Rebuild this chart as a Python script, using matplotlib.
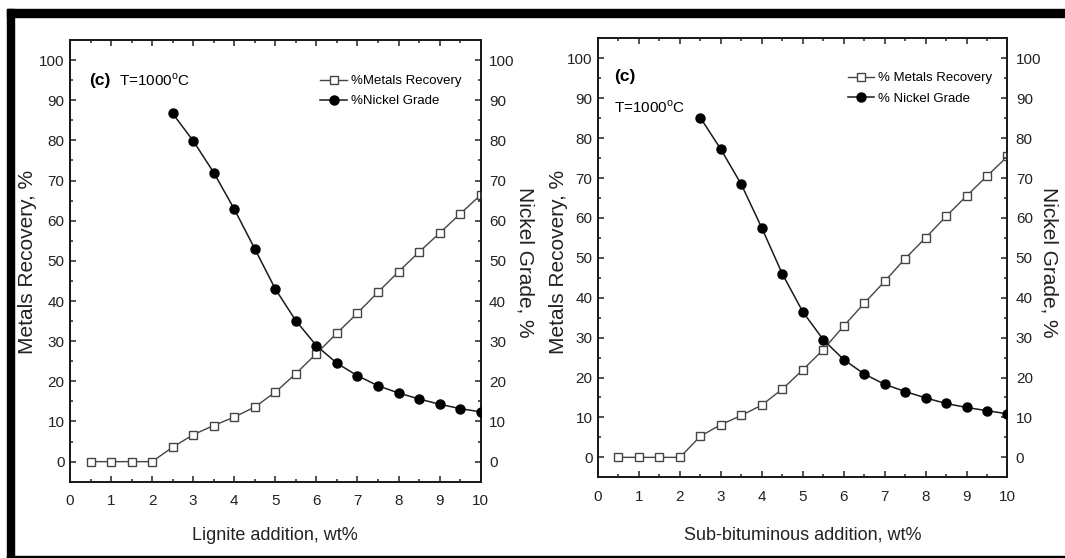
"""Two-panel metals recovery / nickel grade vs. reductant addition (T=1000 C)."""
import matplotlib

matplotlib.use("Agg")
import matplotlib.pyplot as plt
from matplotlib.lines import Line2D
from matplotlib.patches import Rectangle
from matplotlib.ticker import MultipleLocator

# --- data ---
addition = [0.5, 1.0, 1.5, 2.0, 2.5, 3.0, 3.5, 4.0, 4.5, 5.0,
            5.5, 6.0, 6.5, 7.0, 7.5, 8.0, 8.5, 9.0, 9.5, 10.0]
grade_x = addition[4:]

lignite_recovery = [0, 0, 0, 0, 3.6, 6.7, 9.0, 11.1, 13.6, 17.3,
                    21.9, 26.9, 32.0, 37.0, 42.2, 47.3, 52.2, 56.9, 61.7, 66.4]
lignite_grade = [86.7, 79.9, 72.0, 62.9, 53.0, 43.0, 35.1, 28.9,
                 24.5, 21.4, 18.9, 17.1, 15.6, 14.3, 13.2, 12.4]

subbit_recovery = [0, 0, 0, 0, 5.3, 8.2, 10.5, 13.1, 17.1, 21.9,
                   27.0, 32.9, 38.6, 44.1, 49.8, 55.0, 60.4, 65.5, 70.5, 75.4]
subbit_grade = [85.1, 77.2, 68.4, 57.5, 46.0, 36.5, 29.5, 24.5,
                20.9, 18.3, 16.5, 14.9, 13.5, 12.5, 11.7, 10.9]

xlabels = ["Lignite addition, wt%", "Sub-bituminous addition, wt%"]
legend_labels = [["%Metals Recovery", "%Nickel Grade"],
                 ["% Metals Recovery", "% Nickel Grade"]]

FONT = ["Liberation Sans", "DejaVu Sans"]
plt.rcParams["font.family"] = FONT
plt.rcParams["mathtext.fontset"] = "custom"
plt.rcParams["mathtext.rm"] = "Liberation Sans"

fig = plt.figure(figsize=(10.65, 5.58), dpi=100)

# black frame pieces of the scanned figure
for (x0, y0, w, h) in [(7, 9, 1058, 8), (7, 9, 7, 549), (7, 556, 1058, 2)]:
    fig.patches.append(Rectangle((x0 / 1065, 1 - (y0 + h) / 558), w / 1065, h / 558,
                                 transform=fig.transFigure, color="black", zorder=0))

panels = [
    dict(rect=[0.0657, 0.1367, 0.3856, 0.7916], rec=lignite_recovery, grade=lignite_grade,
         c_pos=(0.046, 0.909), t_pos=(0.119, 0.909), leg=(0.61, 0.921),
         ylab_x=27.5, ylab2_x=525),
    dict(rect=[0.5615, 0.1446, 0.3845, 0.7867], rec=subbit_recovery, grade=subbit_grade,
         c_pos=(0.040, 0.912), t_pos=(0.040, 0.842), leg=(0.61, 0.923),
         ylab_x=558, ylab2_x=1049),
]

for i, p in enumerate(panels):
    ax = fig.add_axes(p["rect"])
    ax2 = ax.twinx()
    for a in (ax, ax2):
        a.set_xlim(0, 10)
        a.set_ylim(-5, 105)
        a.yaxis.set_major_locator(MultipleLocator(10))
        a.yaxis.set_minor_locator(MultipleLocator(5))
        a.xaxis.set_major_locator(MultipleLocator(1))
        a.xaxis.set_minor_locator(MultipleLocator(0.5))
        a.tick_params(which="both", direction="in", colors="#222222", width=1.1)
        a.tick_params(which="major", length=4.5)
        a.tick_params(which="minor", length=2.5)
        for s in a.spines.values():
            s.set_linewidth(1.3)
            s.set_color("#1a1a1a")
    ax.tick_params(which="both", top=True, labelsize=11)
    ax.tick_params(axis="y", pad=4)
    ax.tick_params(axis="x", pad=9)
    ax2.tick_params(axis="y", labelsize=11, pad=6)

    ax.plot(addition, p["rec"], "-s", color="#444444", lw=1.0, ms=5.2,
            mfc="white", mec="#444444", mew=1.0, zorder=3)
    ax2.plot(grade_x, p["grade"], "-o", color="#1a1a1a", lw=1.1, ms=6.5,
             mfc="black", mec="black", zorder=3)

    x_mid = p["rect"][0] + p["rect"][2] / 2
    fig.text(x_mid, 1 - 535 / 558, xlabels[i], ha="center", va="center",
             fontsize=13, color="#222222")
    fig.text(p["ylab_x"] / 1065, 1 - 262 / 558, "Metals Recovery, %", rotation=90,
             ha="center", va="center", fontsize=15, color="#222222")
    fig.text(p["ylab2_x"] / 1065, 1 - 262 / 558, "Nickel Grade, %", rotation=270,
             ha="center", va="center", fontsize=15, color="#222222")

    ax2.text(p["c_pos"][0], p["c_pos"][1], "(c)", transform=ax.transAxes,
             fontsize=12.5, fontweight="bold", va="center", ha="left")
    ax2.text(p["t_pos"][0], p["t_pos"][1], "T=1000$^{\\rm o}$C", transform=ax.transAxes,
             fontsize=11, va="center", ha="left")

    handles = [
        Line2D([], [], color="#444444", lw=1.0, marker="s", ms=5.2, mfc="white",
               mec="#444444"),
        Line2D([], [], color="#1a1a1a", lw=1.1, marker="o", ms=6.5, mfc="black",
               mec="black"),
    ]
    ax2.legend(handles, legend_labels[i], loc="upper left", bbox_to_anchor=p["leg"],
               frameon=False, fontsize=9.5, handlelength=2.0, handletextpad=0.3,
               labelspacing=0.6, borderpad=0, borderaxespad=0)

fig.savefig("out.png", dpi=100)
